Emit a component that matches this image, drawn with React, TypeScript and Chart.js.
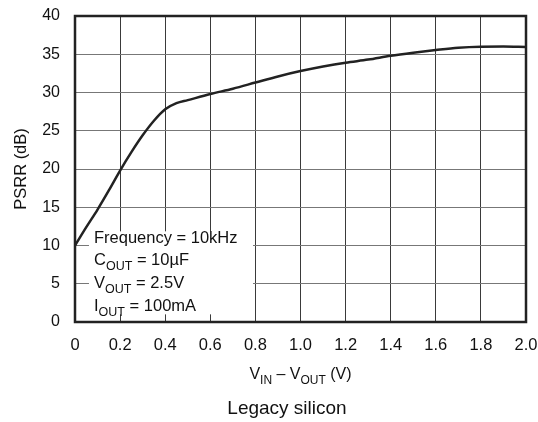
import React, { useEffect, useRef } from "react";
import { Chart, registerables } from "chart.js";

Chart.register(...registerables);

const vDiff = [0, 0.05, 0.1, 0.15, 0.2, 0.25, 0.3, 0.35, 0.4, 0.45, 0.5, 0.6, 0.7, 0.8, 0.9, 1.0, 1.1, 1.2, 1.3, 1.4, 1.5, 1.6, 1.7, 1.8, 1.9, 2.0];
const psrr = [10, 12.4, 14.7, 17.2, 19.8, 22.2, 24.4, 26.3, 27.8, 28.6, 29.0, 29.8, 30.5, 31.3, 32.1, 32.8, 33.4, 33.9, 34.3, 34.8, 35.2, 35.55, 35.85, 35.98, 36.0, 35.95];

const xTitle: [string, boolean][] = [["V", false], ["IN", true], [" – V", false], ["OUT", true], [" (V)", false]];
const yTitle = "PSRR (dB)";
const caption = "Legacy silicon";
const conditions: [string, boolean][][] = [
  [["Frequency = 10kHz", false]],
  [["C", false], ["OUT", true], [" = 10µF", false]],
  [["V", false], ["OUT", true], [" = 2.5V", false]],
  [["I", false], ["OUT", true], [" = 100mA", false]],
];

const FONT = "'Liberation Sans', Arial, Helvetica, sans-serif";

function drawRich(ctx: CanvasRenderingContext2D, parts: [string, boolean][], x: number, y: number, size: number, subSize: number, align: "left" | "center") {
  let total = 0;
  for (const [t, sub] of parts) {
    ctx.font = `${sub ? subSize : size}px ${FONT}`;
    total += ctx.measureText(t).width;
  }
  let cx = align === "center" ? x - total / 2 : x;
  ctx.textAlign = "left";
  ctx.textBaseline = "alphabetic";
  for (const [t, sub] of parts) {
    ctx.font = `${sub ? subSize : size}px ${FONT}`;
    ctx.fillText(t, cx, sub ? y + 4.5 : y);
    cx += ctx.measureText(t).width;
  }
}

const decorPlugin = {
  id: "decor",
  beforeDatasetsDraw(chart: any) {
    const { ctx } = chart;
    const xs = chart.scales.x;
    const ys = chart.scales.y;
    ctx.save();
    ctx.fillStyle = "#ffffff";
    ctx.fillRect(xs.getPixelForValue(0.062), ys.getPixelForValue(11.85), 164, 83);
    ctx.restore();
  },
  afterDatasetsDraw(chart: any) {
    const { ctx, chartArea } = chart;
    ctx.save();
    ctx.strokeStyle = "#222";
    ctx.lineWidth = 2.5;
    ctx.strokeRect(chartArea.left, chartArea.top, chartArea.right - chartArea.left, chartArea.bottom - chartArea.top);
    ctx.fillStyle = "#111";
    const baselines = [242.5, 265, 288, 311];
    conditions.forEach((line, i) => drawRich(ctx, line, 94, baselines[i], 16.5, 12.5, "left"));
    drawRich(ctx, xTitle, (chartArea.left + chartArea.right) / 2, 379, 16, 12, "center");
    ctx.font = `19px ${FONT}`;
    ctx.textAlign = "center";
    ctx.textBaseline = "alphabetic";
    ctx.fillText(caption, 287, 413.5);
    ctx.translate(26, (chartArea.top + chartArea.bottom) / 2);
    ctx.rotate(-Math.PI / 2);
    ctx.font = `16.5px ${FONT}`;
    ctx.textAlign = "center";
    ctx.textBaseline = "alphabetic";
    ctx.fillText(yTitle, 0, 0);
    ctx.restore();
  },
};

export default function App() {
  const ref = useRef<HTMLCanvasElement>(null);
  useEffect(() => {
    document.body.style.margin = "0";
    const chart = new Chart(ref.current!, {
      type: "line",
      data: {
        datasets: [
          {
            data: vDiff.map((v, i) => ({ x: v, y: psrr[i] })),
            borderColor: "#222",
            borderWidth: 2.5,
            pointRadius: 0,
            fill: false,
            cubicInterpolationMode: "monotone",
          },
        ],
      },
      options: {
        animation: false,
        responsive: false,
        layout: { padding: { left: 0, right: 12, top: 16, bottom: 0 } },
        plugins: { legend: { display: false }, tooltip: { enabled: false } },
        scales: {
          x: {
            type: "linear",
            min: 0,
            max: 2,
            grid: { color: "#3a3a3a", lineWidth: 1, tickLength: 0, drawTicks: false },
            border: { display: false },
            ticks: {
              stepSize: 0.2,
              padding: 14,
              color: "#111",
              font: { family: FONT, size: 16.5 },
              maxRotation: 0,
              autoSkip: false,
              callback: (v: any) => (Number(v) === 0 ? "0" : Number(v).toFixed(1)),
            },
            afterFit: (s: any) => {
              s.height = 100;
              s.paddingLeft = 0;
              s.paddingRight = 0;
              s.paddingTop = 0;
              s.paddingBottom = 0;
            },
          },
          y: {
            min: 0,
            max: 40,
            grid: { color: "#777", lineWidth: 1, tickLength: 0, drawTicks: false },
            border: { display: false },
            ticks: {
              stepSize: 5,
              padding: 15,
              color: "#111",
              font: { family: FONT, size: 16 },
            },
            afterFit: (s: any) => {
              s.width = 75;
              s.paddingLeft = 0;
              s.paddingRight = 0;
              s.paddingTop = 0;
              s.paddingBottom = 0;
            },
          },
        },
      },
      plugins: [decorPlugin],
    } as any);
    return () => chart.destroy();
  }, []);
  return (
    <div style={{ position: "absolute", left: 0, top: 0, width: 538, height: 422 }}>
      <canvas ref={ref} width={538} height={422} style={{ width: 538, height: 422 }} />
    </div>
  );
}
